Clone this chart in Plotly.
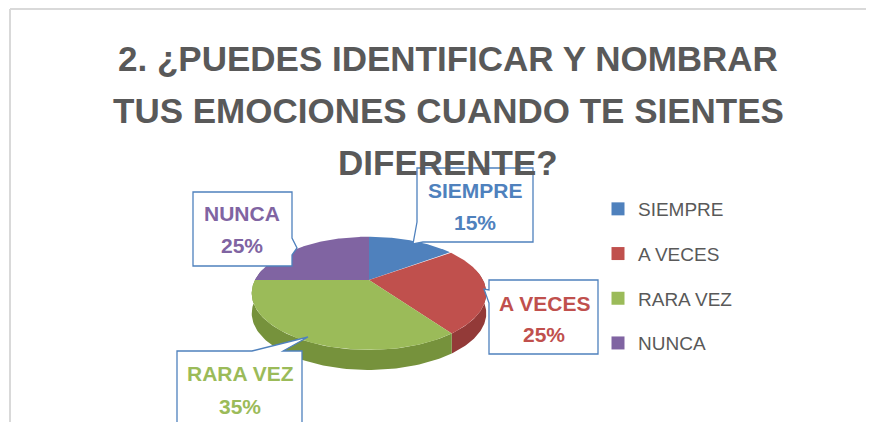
import numpy as np
import plotly.graph_objects as go

# ---------------- data ----------------
categories = ["SIEMPRE", "A VECES", "RARA VEZ", "NUNCA"]
values = [15, 25, 35, 25]
title_lines = ["2. ¿PUEDES IDENTIFICAR Y NOMBRAR",
               "TUS EMOCIONES CUANDO TE SIENTES",
               "DIFERENTE?"]

# ---------------- style ----------------
top_colors = ["#4f81bd", "#c0504d", "#9bbb59", "#8064a2"]
side_colors = ["#3b6597", "#933a38", "#76923c", "#5f4a7e"]
W, H = 874, 422
OFF = 8  # page body margin; axes are mapped so data units == page pixels
FONT = "Liberation Sans"
GRAY = "#595959"

# projected (tilted, perspective) pie geometry, in page pixels
CX, CY = 369, 280
A, K, B = 53.5, 0.235, 114
DEPTH = 20


def proj(theta_deg):
    t = np.radians(theta_deg)
    u, v = np.sin(t), np.cos(t)
    f = 1.0 / (1.0 + K * v)
    return CX + B * u * f, CY - A * v * f


total = float(sum(values))
bounds = np.concatenate([[0], np.cumsum(values) / total * 360.0])

fig = go.Figure()

# side walls (visible front part)
for i in range(len(values)):
    a0, a1 = max(bounds[i], 78), min(bounds[i + 1], 282)
    if a1 <= a0:
        continue
    th = np.linspace(a0, a1, 80)
    x, y = proj(th)
    xs = np.concatenate([x, x[::-1]])
    ys = np.concatenate([y, (y + DEPTH)[::-1]])
    fig.add_trace(go.Scatter(x=xs, y=ys, fill="toself", mode="lines",
                             line=dict(width=0), fillcolor=side_colors[i],
                             hoverinfo="skip", showlegend=False))

# top faces
for i in range(len(values)):
    th = np.linspace(bounds[i], bounds[i + 1], 120)
    x, y = proj(th)
    xs = np.concatenate([[CX], x, [CX]])
    ys = np.concatenate([[CY], y, [CY]])
    fig.add_trace(go.Scatter(x=xs, y=ys, fill="toself", mode="lines",
                             line=dict(width=0), fillcolor=top_colors[i],
                             hoverinfo="text", text=f"{categories[i]}: {values[i]}%",
                             showlegend=False))

# legend entries
for i, c in enumerate(categories):
    fig.add_trace(go.Scatter(x=[None], y=[None], mode="markers", name=c,
                             legendgroup=c,
                             marker=dict(symbol="square", size=13, color=top_colors[i])))

# ---------------- decorations ----------------
shapes = [
    dict(type="line", xref="x", yref="y", x0=10, y0=9, x1=W, y1=9,
         line=dict(color="#d9d9d9", width=2), layer="below"),
    dict(type="line", xref="x", yref="y", x0=10, y0=9, x1=10, y1=H,
         line=dict(color="#d9d9d9", width=2), layer="below"),
]
callout_paths = [
    "M417,168 L533,168 L533,242 L423,242 L413,244 L417,222 Z",
    "M489,280 L598,280 L598,354 L489,354 L489,303 L484,289 L489,290 Z",
    "M177,351 L252,351 L308,337 L283,351 L302,351 L302,440 L177,440 Z",
    "M193,192 L292,192 L292,238 L297,248 L292,255 L292,266 L193,266 Z",
]
for p in callout_paths:
    shapes.append(dict(type="path", xref="x", yref="y", path=p,
                       fillcolor="white", line=dict(color="#4f81bd", width=1.3)))

# label centres (x, first line y, second line y) in category order
label_pos = [(475, 190, 222), (544, 303, 334), (240, 373, 406), (242, 213, 245)]
annotations = []
for i, (lx, y1, y2) in enumerate(label_pos):
    pct = round(values[i] / total * 100)
    for txt, yy in ((categories[i], y1), (f"{pct}%", y2)):
        annotations.append(dict(x=lx, y=yy, xref="x", yref="y", text=f"<b>{txt}</b>",
                                showarrow=False, xanchor="center", yanchor="middle",
                                font=dict(family=FONT, size=21, color=top_colors[i])))

for j, (t, yy) in enumerate(zip(title_lines, [58, 110, 162])):
    annotations.append(dict(x=448, y=yy, xref="x", yref="y", text=f"<b>{t}</b>",
                            showarrow=False, xanchor="center", yanchor="middle",
                            font=dict(family=FONT, size=35, color=GRAY)))

fig.update_layout(
    width=W - OFF, height=H - OFF, margin=dict(l=0, r=0, t=0, b=0),
    paper_bgcolor="white", plot_bgcolor="white",
    xaxis=dict(range=[OFF, W], visible=False, fixedrange=True),
    yaxis=dict(range=[H, OFF], visible=False, fixedrange=True),
    shapes=shapes, annotations=annotations,
    legend=dict(x=(598 - OFF) / (W - OFF), xanchor="left",
                y=1 - (190 - OFF) / (H - OFF), yanchor="top",
                font=dict(family=FONT, size=19, color=GRAY),
                tracegroupgap=17, bgcolor="rgba(0,0,0,0)"),
    showlegend=True,
)

fig.write_html("out.html")
